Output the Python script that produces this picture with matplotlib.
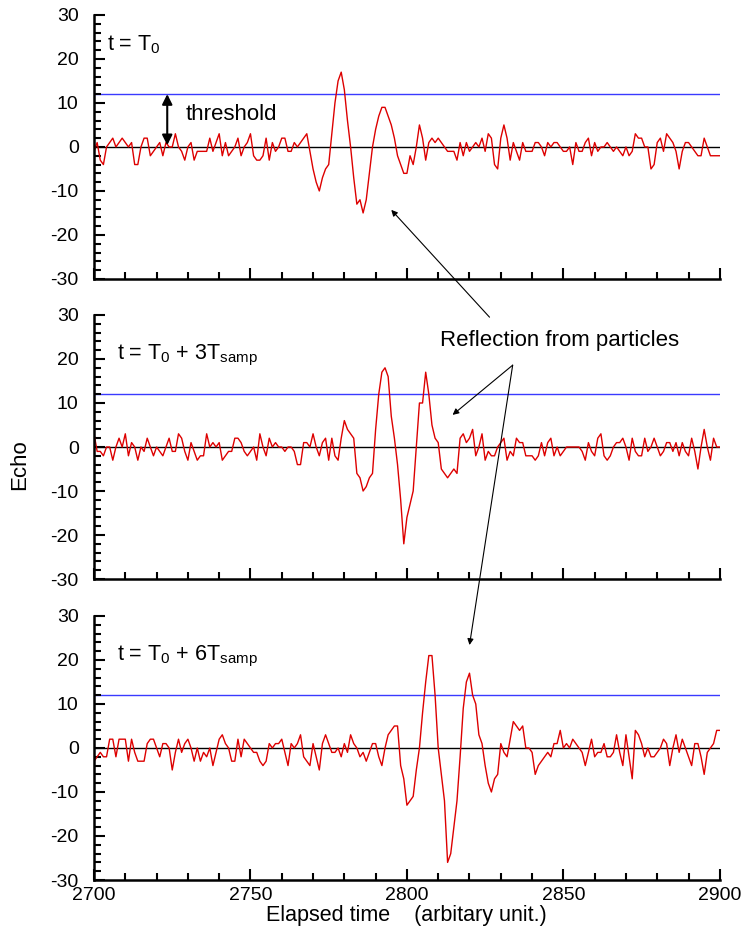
import numpy as np
import matplotlib
matplotlib.use("Agg")
import matplotlib.pyplot as plt
from matplotlib.ticker import MultipleLocator

plt.rcParams['font.family'] = ['Liberation Sans', 'DejaVu Sans']
plt.rcParams['font.size'] = 14
plt.rcParams['axes.unicode_minus'] = False

# elapsed time axis (one sample per unit)
t = np.arange(2700, 2901)

# echo at t = T0
echo_t0 = [
    -1, 1, -3, -4, 0, 1, 2, 0, 1, 2,
    1, 0, 1, -4, -4, 0, 2, 2, -2, -1,
    0, 1, -2, 1, 0, 0, 3, 0, -1, -3,
    0, 1, -3, -1, -1, -1, -1, 2, -1, 1,
    3, -2, 1, -2, -1, 0, 2, -2, 0, 1,
    3, -2, -3, -3, -2, 2, -3, 1, -1, 0,
    2, 2, -1, -1, 1, 0, 1, 2, 3, -1,
    -5, -8, -10, -7, -5, -4, 3, 10, 15, 17,
    13, 6, 0, -7, -13, -12, -15, -12, -6, 0,
    4, 7, 9, 9, 7, 5, 2, -2, -4, -6,
    -6, -2, -4, 0, 5, 2, -3, 1, 2, 1,
    2, 1, 0, -1, -1, -1, -3, 1, -2, 1,
    -1, 0, 1, 0, 2, -1, 3, 2, -4, -5,
    2, 5, 2, -3, 1, -1, -3, 1, -1, -1,
    -1, 1, 1, 0, -2, 1, 0, 1, 1, 0,
    -1, -1, 0, -4, 1, -1, -1, 1, 2, -2,
    1, -1, 0, 0, 1, 0, -1, 0, -1, -2,
    0, -2, -1, 3, 2, 2, 0, 0, -5, -4,
    1, 2, -1, 3, 2, 1, -1, -5, -1, 1,
    1, 0, -1, -2, -2, 2, 0, -2, -2, -2,
    -2,
]

# echo at t = T0 + 3 Tsamp
echo_t3 = [
    3, -1, -1, -2, 0, 0, -3, 0, 2, 0,
    3, -2, 1, 0, -3, 0, -1, 2, 0, -2,
    0, -1, -2, 0, 2, -1, -1, 3, 2, -1,
    -3, 1, -1, -3, -2, -2, 3, 0, 1, 0,
    1, -3, -2, -1, -1, 2, 2, 1, -1, -2,
    -1, 0, -3, 3, 0, -2, 2, 0, 1, 0,
    0, -1, 0, 0, -1, -4, -4, 1, 1, 0,
    3, 0, -2, 1, 2, -3, 2, -2, -3, 2,
    6, 4, 3, 2, -6, -7, -10, -9, -7, -6,
    4, 12, 17, 18, 16, 7, 2, -4, -12, -22,
    -16, -13, -10, 0, 10, 10, 17, 12, 5, 2,
    1, -5, -6, -7, -6, -5, -6, 2, 3, 1,
    2, 4, -2, 0, 3, -3, -1, -2, -2, 0,
    1, 2, -3, -1, -2, 2, 1, 1, -2, -2,
    -2, -3, -2, 1, -2, 1, 2, -2, 0, -2,
    -1, 0, 0, 0, 0, 0, -1, -3, 1, -1,
    -2, 2, 3, -2, -3, -2, 0, 1, 1, 2,
    0, -3, 2, -1, -2, -2, 2, -1, 0, 2,
    0, -2, -1, 1, 1, -1, 1, -2, 1, -1,
    -2, 2, -1, -5, 0, 4, 0, -3, 2, 0,
    0,
]

# echo at t = T0 + 6 Tsamp
echo_t6 = [
    -3, -2, -1, -2, -2, 2, 2, -2, 2, 2,
    2, -3, 2, -1, -3, -3, -3, 1, 2, 2,
    0, -2, 1, 1, 0, -5, -1, 2, -1, 1,
    2, 0, -3, 0, -3, -1, -2, 0, -4, -1,
    2, 3, 1, 0, -3, -3, 2, -2, 2, 1,
    0, -1, -1, -3, -4, -3, 1, 0, 1, 1,
    2, -1, -4, 1, 0, 1, 3, -2, -3, -4,
    1, -2, -5, 1, 3, 1, -1, -1, 0, -2,
    1, -1, 3, 1, 0, -2, -1, -3, -1, 1,
    1, -2, -4, 0, 3, 4, 5, 5, -4, -7,
    -13, -12, -11, -5, 0, 8, 15, 21, 21, 12,
    0, -6, -12, -26, -24, -18, -12, -2, 9, 15,
    17, 12, 10, 3, 1, -4, -8, -10, -7, -6,
    1, -1, -2, 2, 6, 5, 4, 5, 0, 0,
    -1, -6, -4, -3, -2, -1, -2, 1, 1, 4,
    0, 1, 0, 2, 1, 0, -1, -4, -1, 2,
    -2, -1, -1, 1, -2, -2, -1, 3, -1, -4,
    3, -2, -7, 4, 3, 1, -2, 0, -2, -2,
    -1, 0, 2, 1, -4, 0, 3, -1, 2, 0,
    -2, -4, 1, 1, -2, -6, -1, 0, 1, 4,
    4,
]

threshold = 12
labels = [r't = T$\mathregular{_0}$',
          r't = T$\mathregular{_0}$ + 3T$\mathregular{_{samp}}$',
          r't = T$\mathregular{_0}$ + 6T$\mathregular{_{samp}}$']
label_x = [0.021, 0.037, 0.037]
label_y = [0.886, 0.848, 0.848]

fig = plt.figure(figsize=(7.45, 9.33), dpi=100)
left, width, height = 0.1262, 0.840, 0.283
bottoms = [0.701, 0.3794, 0.0568]
axes = []
for b, y, lab, lx, ly in zip(bottoms, [echo_t0, echo_t3, echo_t6], labels, label_x, label_y):
    ax = fig.add_axes([left, b, width, height])
    ax.set_facecolor('none')
    ax.axhline(0, color='black', lw=1, zorder=1)
    ax.axhline(threshold, color='#3a3aff', lw=1, zorder=1)
    ax.plot(t, y, color='#dd0000', lw=1, zorder=2)
    ax.set_xlim(2700, 2900)
    ax.set_ylim(-30, 30)
    ax.xaxis.set_major_locator(MultipleLocator(50))
    ax.xaxis.set_minor_locator(MultipleLocator(10))
    ax.yaxis.set_major_locator(MultipleLocator(10))
    ax.yaxis.set_minor_locator(MultipleLocator(2))
    ax.tick_params(which='both', direction='in', width=1.5, top=False, right=False)
    ax.tick_params(which='major', length=8)
    ax.tick_params(which='minor', length=5)
    ax.tick_params(axis='y', which='major', pad=11)
    ax.tick_params(axis='x', which='major', pad=5)
    for s in ['top', 'right']:
        ax.spines[s].set_visible(False)
    for s in ['left', 'bottom']:
        ax.spines[s].set_linewidth(1.8)
    ax.text(lx, ly, lab, transform=ax.transAxes, fontsize=15.5, va='center', ha='left')
    axes.append(ax)

ax1, ax2, ax3 = axes
ax1.tick_params(labelbottom=False)
ax2.tick_params(labelbottom=False)

# threshold marker
ax1.annotate('', xy=(2723.4, 0.4), xytext=(2723.4, 12),
             arrowprops=dict(arrowstyle='<|-|>', color='black', lw=1.5,
                             mutation_scale=15, shrinkA=0, shrinkB=0))
ax1.text(2729.4, 7.3, 'threshold', fontsize=16, va='center', ha='left')

# reflection annotation
ax2.text(2810.7, 24.3, 'Reflection from particles', fontsize=16, va='center', ha='left')
arrow_kw = dict(arrowstyle='-|>', color='black', lw=0.8, mutation_scale=9,
                shrinkA=0, shrinkB=0)
ax2.annotate('', xy=(2795, -14.3), xycoords=ax1.transData,
             xytext=(2826.4, 29.5), textcoords=ax2.transData,
             arrowprops=arrow_kw, annotation_clip=False)
ax2.annotate('', xy=(2814.6, 7.3), xytext=(2833.8, 18.6),
             arrowprops=arrow_kw, annotation_clip=False)
ax3.annotate('', xy=(2820, 23.4), xycoords=ax3.transData,
             xytext=(2833.8, 18.6), textcoords=ax2.transData,
             arrowprops=arrow_kw, annotation_clip=False)

fig.text(0.026, 0.5016, 'Echo', rotation=90, va='center', ha='center', fontsize=16)
fig.text(0.545, 0.019, 'Elapsed time    (arbitary unit.)', va='center', ha='center', fontsize=15.5)

fig.savefig('out.png', dpi=100)
